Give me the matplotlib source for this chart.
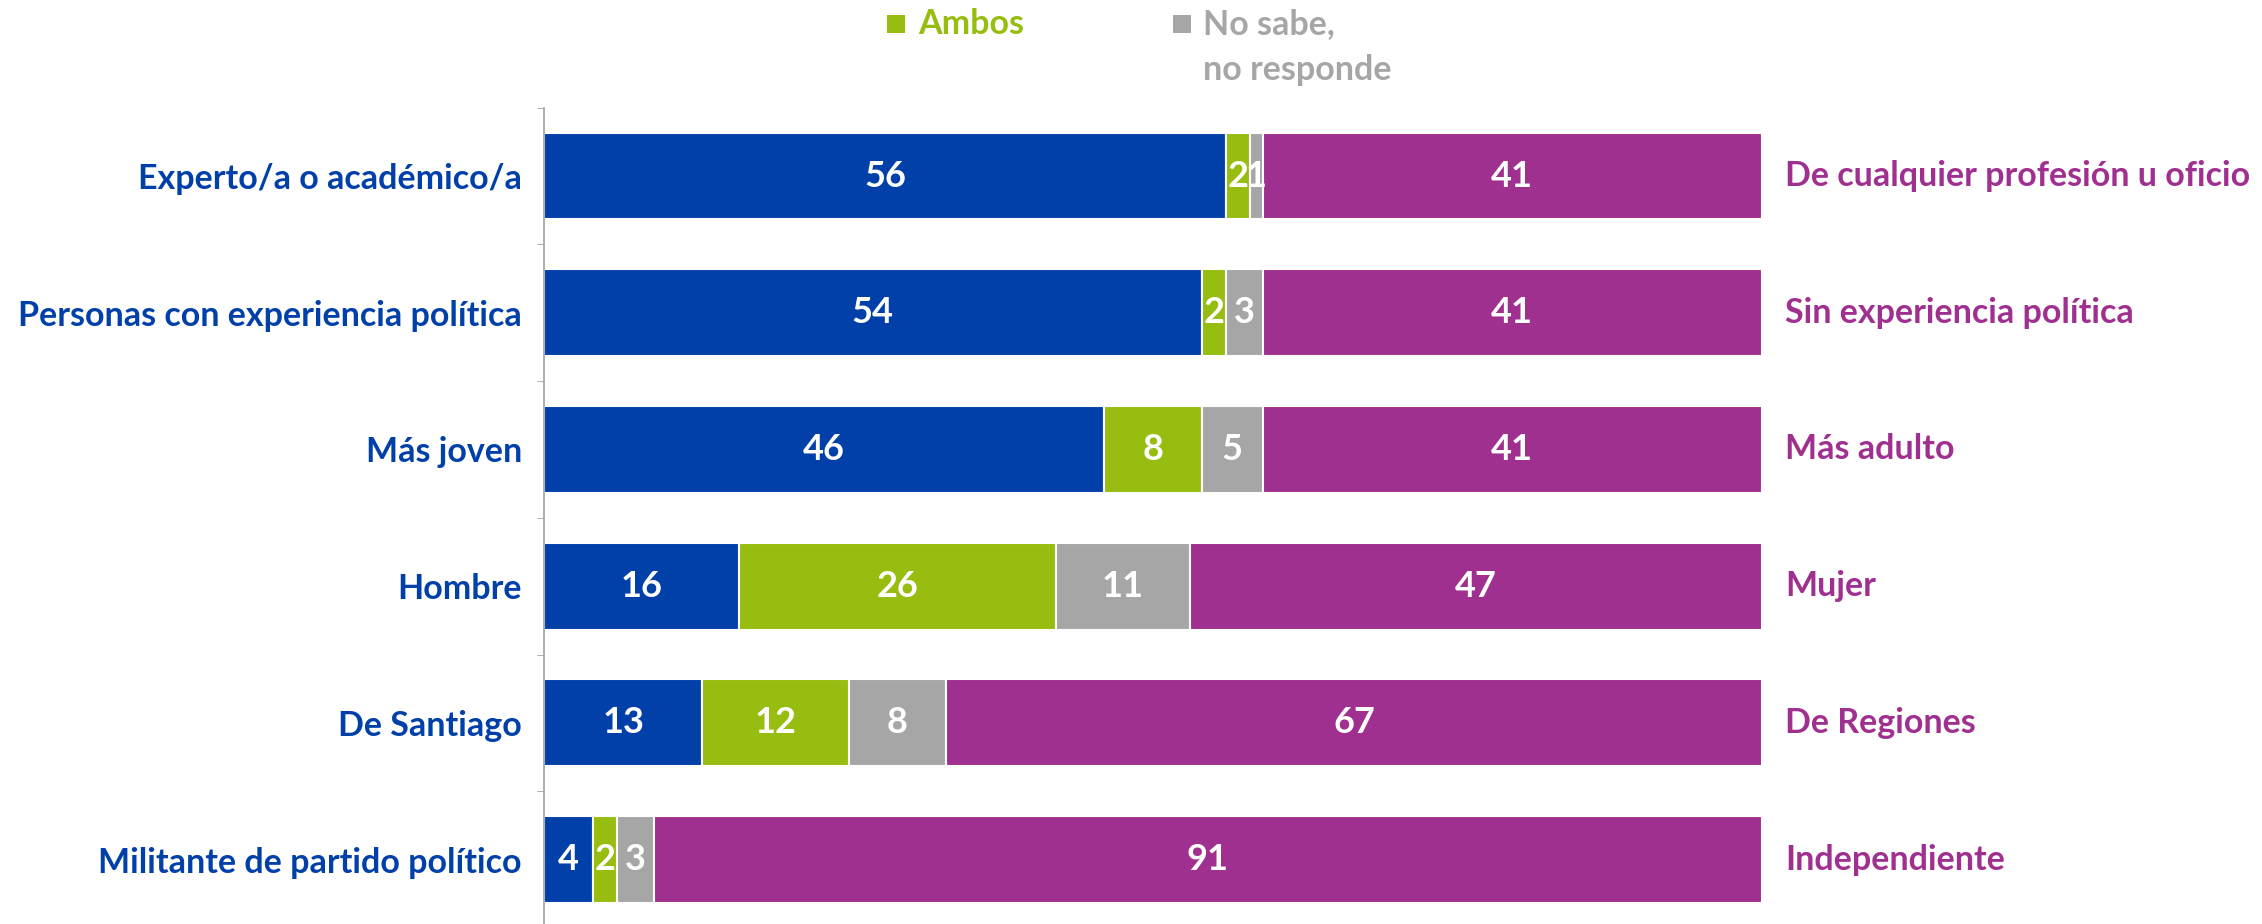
import matplotlib.pyplot as plt
import matplotlib.patches as mpatches
import numpy as np

# Datos
categorias_izq = ['Experto/a o académico/a', 'Personas con experiencia política',
                  'Más joven', 'Hombre', 'De Santiago', 'Militante de partido político']
categorias_der = ['De cualquier profesión u oficio', 'Sin experiencia política',
                  'Más adulto', 'Mujer', 'De Regiones', 'Independiente']
izq = [56, 54, 46, 16, 13, 4]
ambos = [2, 2, 8, 26, 12, 2]
nsnr = [1, 3, 5, 11, 8, 3]
der = [41, 41, 41, 47, 67, 91]

AZUL = '#0040A8'
VERDE = '#97BD10'
GRIS = '#A6A6A6'
MORADO = '#A0308F'

plt.rcParams['font.family'] = ['Lato', 'DejaVu Sans']

W, H = 2262, 924
fig = plt.figure(figsize=(W / 100, H / 100), dpi=100)
ax = fig.add_axes([544 / W, -0.0043, 1218 / W, 0.8878])

y = np.arange(len(izq))
series = [izq, ambos, nsnr, der]
colores = [AZUL, VERDE, GRIS, MORADO]
left = np.zeros(len(izq))
for vals, col in zip(series, colores):
    vals = np.array(vals, dtype=float)
    bars = ax.barh(y, vals, left=left, height=0.636, color=col,
                   edgecolor='white', linewidth=1.5)
    for b, v in zip(bars, vals):
        ax.text(b.get_x() + b.get_width() / 2, b.get_y() + b.get_height() / 2,
                f'{int(v)}', ha='center', va='center', color='white',
                fontsize=26, fontweight='bold')
    left += vals

ax.set_xlim(0, 100)
ax.set_ylim(len(izq) - 0.5, -0.5)

ax.set_yticks(y)
ax.set_yticklabels(categorias_izq, fontsize=24.5, fontweight='bold', color=AZUL)
ax.tick_params(axis='y', which='major', length=0, pad=16)
ax.set_yticks(np.arange(len(izq) + 1) - 0.5, minor=True)
ax.tick_params(axis='y', which='minor', length=5, color='#A0A0A0', direction='out')
ax.set_xticks([])

for i, lab in enumerate(categorias_der):
    ax.text(101.9, i, lab, ha='left', va='center', fontsize=24.5,
            fontweight='bold', color=MORADO)

for s in ['top', 'right', 'bottom']:
    ax.spines[s].set_visible(False)
ax.spines['left'].set_color('#A0A0A0')
ax.spines['left'].set_linewidth(1.2)

# Leyenda
def cuadro(x0, col):
    fig.patches.append(mpatches.Rectangle((x0 / W, 1 - 33 / H), 18 / W, 18 / H,
                                          transform=fig.transFigure,
                                          facecolor=col, edgecolor='none'))

cuadro(887, VERDE)
cuadro(1173, GRIS)
fig.text(918 / W, 1 - 34 / H, 'Ambos', color=VERDE, fontsize=24.5,
         fontweight='bold', ha='left', va='baseline')
fig.text(1203 / W, 1 - 34 / H, 'No sabe,', color=GRIS, fontsize=24.5,
         fontweight='bold', ha='left', va='baseline')
fig.text(1203 / W, 1 - 80 / H, 'no responde', color=GRIS, fontsize=24.5,
         fontweight='bold', ha='left', va='baseline')

plt.savefig('out.png', dpi=100)
